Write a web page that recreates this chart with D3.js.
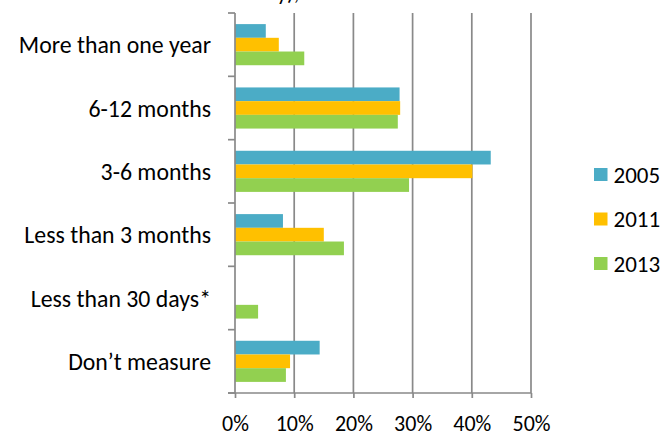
<!DOCTYPE html>
<html><head><meta charset="utf-8">
<script src="https://cdn.jsdelivr.net/npm/d3@7"></script>
<style>
html,body{margin:0;padding:0;background:#fff;}
svg{display:block;font-family:Carlito,"Open Sans",Lato,sans-serif;}
</style></head>
<body>
<svg id="c" width="662" height="433"></svg>
<script>
const categories = ["More than one year","6-12 months","3-6 months","Less than 3 months","Less than 30 days*","Don’t measure"];
const seriesNames = ["2005","2011","2013"];
const values2005 = [5.2, 27.8, 43.2, 8.1, null, 14.3];
const values2011 = [7.4, 27.9, 40.1, 15.0, null, 9.3];
const values2013 = [11.7, 27.5, 29.4, 18.4, 3.9, 8.6];
const colors = ["#4BACC6","#FFC000","#92D050"];
const xTicks = [0, 10, 20, 30, 40, 50];
const titleFragment = "y),";

(function(){
const seriesVals = [values2005, values2011, values2013];
const svg = d3.select("#c");
const pL = 235, pR = 531, pT = 13, pB = 393;
const FONT = "Carlito,'Open Sans',Lato,sans-serif";

const x = d3.scaleLinear().domain([0, 50]).range([pL, pR]);
const y0 = d3.scaleBand().domain(categories).range([pT, pB]).padding(0);
const y1 = d3.scaleBand().domain(seriesNames).range([0, y0.bandwidth()]).paddingInner(0).paddingOuter(0.81);

// cut-off title fragment (only descenders visible in the reference)
svg.append("text").attr("x", 277).attr("y", 0).attr("font-size", 22).attr("fill", "#000").text(titleFragment);

// gridlines
svg.append("g").selectAll("line").data(xTicks.slice(1)).join("line")
  .attr("x1", d => x(d)).attr("x2", d => x(d))
  .attr("y1", pT).attr("y2", pB)
  .attr("stroke", "#898989").attr("stroke-width", 1.7);

// bars
const groups = svg.append("g").selectAll("g").data(categories).join("g")
  .attr("transform", c => `translate(0,${y0(c)})`);
groups.selectAll("rect")
  .data((c, i) => seriesNames.map((s, j) => ({s, j, v: seriesVals[j][i]})).filter(d => d.v != null))
  .join("rect")
  .attr("x", x(0))
  .attr("y", d => y1(d.s))
  .attr("width", d => x(d.v) - x(0))
  .attr("height", y1.bandwidth())
  .attr("fill", d => colors[d.j]);

// left axis line + ticks at category boundaries
const bounds = categories.map(c => y0(c)).concat([pB]);
svg.append("line").attr("x1", pL).attr("x2", pL).attr("y1", pT).attr("y2", pB)
  .attr("stroke", "#898989").attr("stroke-width", 1.7);
svg.append("g").selectAll("line").data(bounds).join("line")
  .attr("x1", pL - 7).attr("x2", pL).attr("y1", d => d).attr("y2", d => d)
  .attr("stroke", "#898989").attr("stroke-width", 1.7);

// category labels
svg.append("g").selectAll("text").data(categories).join("text")
  .attr("x", 211).attr("y", c => y0(c) + y0.bandwidth() / 2)
  .attr("text-anchor", "end").attr("dominant-baseline", "central")
  .attr("font-size", 23.8).attr("fill", "#000").text(c => c);

// bottom axis
const xAxis = d3.axisBottom(x).tickValues(xTicks).tickFormat(d => d + "%").tickSize(5).tickSizeOuter(0);
const gx = svg.append("g").attr("transform", `translate(0,${pB})`).call(xAxis);
gx.select(".domain").attr("stroke", "#898989").attr("stroke-width", 1.7).attr("d", `M${pL - 7},0H${pR}`);
gx.selectAll(".tick line").attr("stroke", "#898989").attr("stroke-width", 1.7);
gx.selectAll(".tick text").attr("font-size", 22).attr("fill", "#000").attr("font-family", FONT).attr("dy", null).attr("y", 37.5);

// legend
const lg = svg.append("g").selectAll("g").data(seriesNames).join("g")
  .attr("transform", (d, i) => `translate(594,${174.5 + i * 44.5})`);
lg.append("rect").attr("x", 0).attr("y", -6.5).attr("width", 13.5).attr("height", 13).attr("fill", (d, i) => colors[i]);
lg.append("text").attr("x", 19.5).attr("y", 0).attr("dominant-baseline", "central")
  .attr("font-size", 23).attr("fill", "#000").text(d => d);
})();
</script>
</body></html>
